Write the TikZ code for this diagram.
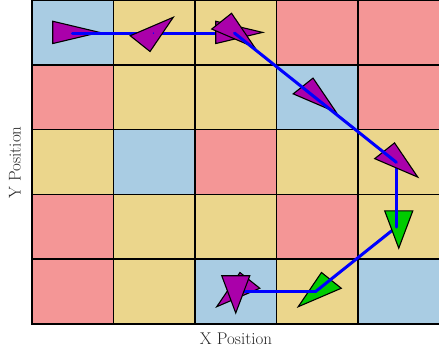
\documentclass[tikz,border=0pt]{standalone}
\definecolor{cellB}{RGB}{169,204,227}
\definecolor{cellY}{RGB}{235,214,140}
\definecolor{cellR}{RGB}{244,150,150}
\definecolor{agentP}{RGB}{170,0,170}
\definecolor{agentG}{RGB}{0,204,0}
\tikzset{
  cellbox/.style={draw=black, line width=1.6pt},
  agentshape/.style={draw=black, line width=1.1pt, line join=miter},
  trail/.style={draw=blue, line width=3pt, line cap=round, line join=round},
  axislabel/.style={font=\fontsize{17}{20}\selectfont, text=black!85, inner sep=0pt},
}
\newcommand{\agenttri}[3]{%
  \begin{scope}[shift={(#1)}, rotate=#2]
    \draw[agentshape, fill=#3] (0.33,0) -- (-0.245,0.172) -- (-0.245,-0.172) -- cycle;
  \end{scope}}
\begin{document}
\begin{tikzpicture}[x=1pt,y=1pt]
\useasboundingbox (0,0) rectangle (439,354);
\clip (0,0) rectangle (439,354);
\begin{scope}[shift={(32,30)}, xscale=81.5, yscale=64.8]
  % cells: row v=4 (top) to v=0 (bottom)
  \foreach \c [count=\k from 0] in {cellB,cellY,cellY,cellR,cellR}
    \filldraw[cellbox, fill=\c] (\k,4) rectangle ++(1,1);
  \foreach \c [count=\k from 0] in {cellR,cellY,cellY,cellB,cellR}
    \filldraw[cellbox, fill=\c] (\k,3) rectangle ++(1,1);
  \foreach \c [count=\k from 0] in {cellY,cellB,cellR,cellY,cellY}
    \filldraw[cellbox, fill=\c] (\k,2) rectangle ++(1,1);
  \foreach \c [count=\k from 0] in {cellR,cellY,cellY,cellR,cellY}
    \filldraw[cellbox, fill=\c] (\k,1) rectangle ++(1,1);
  \foreach \c [count=\k from 0] in {cellR,cellY,cellB,cellY,cellB}
    \filldraw[cellbox, fill=\c] (\k,0) rectangle ++(1,1);
  % path points
  \coordinate (s0) at (0.5,4.5);
  \coordinate (s1) at (1.5,4.5);
  \coordinate (s2) at (2.5,4.5);
  \coordinate (s4) at (3.5,3.5);
  \coordinate (s5) at (4.5,2.5);
  \coordinate (s6) at (4.5,1.5);
  \coordinate (s7) at (3.5,0.5);
  \coordinate (s8) at (2.5,0.5);
  % layered drawing
  \agenttri{0.5,4.5}{0}{agentP}
  \agenttri{3.5,3.5}{-45}{agentP}
  \agenttri{3.5,0.5}{-135}{agentG}
  \agenttri{2.5,0.5}{-135}{agentP}
  \draw[trail] (s0) -- (s1);
  \draw[trail] (s1) -- (s2);
  \agenttri{1.5,4.5}{45}{agentP}
  \fill[blue] (s1) circle[x radius=0.009, y radius=0.011];
  \agenttri{2.5,4.5}{0}{agentP}
  \agenttri{2.5,4.5}{-45}{agentP}
  \draw[trail] (s6) -- (s7);
  \agenttri{4.5,1.5}{-90}{agentG}
  \draw[trail] (s5) -- (s6);
  \agenttri{4.5,2.5}{-45}{agentP}
  \draw[trail] (s2) -- (s4) -- (s5);
  \draw[trail] (s7) -- (s8);
  \agenttri{2.5,0.5}{-90}{agentP}
\end{scope}
\node[axislabel] (xl) at (236,15.5) {X Position};
\node[axislabel, rotate=90] (yl) at (15,191.5) {Y Position};
\end{tikzpicture}
\end{document}
